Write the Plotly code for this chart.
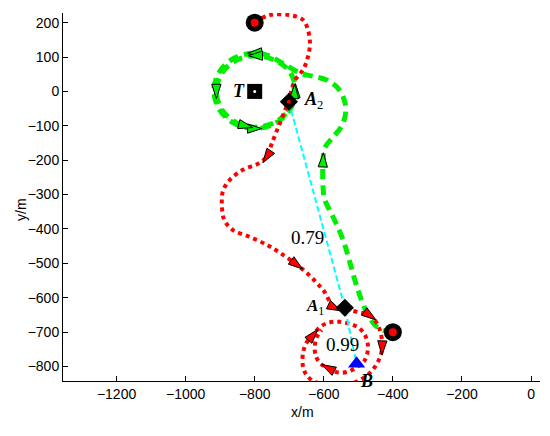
import math
import plotly.graph_objects as go

# ---------------- data ----------------
# red (dotted) trajectory, starting at (-800, 200)
red_x = [-800, -756, -698, -660, -646, -640, -646, -660, -683, -704, -727, -750, -765, -790,
         -834, -872, -892, -895, -888, -863, -814, -765, -727, -678, -649, -620, -600, -582,
         -568, -539, -504, -466, -440, -431, -443, -466, -495, -533, -582, -620, -646, -660,
         -660, -650, -631, -612, -588, -553, -504, -481, -472, -481, -504, -530, -560, -588,
         -611, -624, -626, -620, -606]
red_y = [202, 222, 222, 208, 179, 141, 100, 63, 33, -33, -92, -150, -190, -210,
         -228, -257, -290, -330, -374, -403, -423, -446, -469, -504, -528, -557, -580, -612,
         -629, -633, -641, -652, -687, -746, -786, -818, -839, -853, -855, -847, -830, -801,
         -760, -731, -708, -686, -673, -670, -684, -708, -743, -781, -801, -815, -817, -804,
         -790, -766, -740, -714, -694]
red_arrow_idx = [12, 23, 28, 31, 33, 38, 44, 55]

# green (dashed) trajectory, starting at (-400, -700)
green_x = [-400, -443, -475, -504, -524, -544, -573, -597, -602, -602, -597, -575, -548, -536,
           -544, -562, -591, -631, -665, -716, -760, -800, -859, -902, -918, -902, -859, -800,
           -741, -698, -682, -698, -741, -798, -855, -896, -911, -896, -855, -826, -798, -741,
           -700, -685, -695]
green_y = [-700, -687, -644, -568, -499, -432, -365, -315, -280, -199, -164, -135, -100, -54,
           -16, 13, 33, 44, 52, 80, 104, 112, 97, 57, 2, -53, -93, -108,
           -93, -53, 2, 57, 90, 104, 90, 52, 0, -52, -90, -100, -104, -90,
           -52, 0, 35]
green_arrow_idx = [9, 21, 27, 30, 33, 36, 39, 43]

# start points, target, key points
start_x = [-800, -400]
start_y = [200, -700]
target_x = [-800]
target_y = [0]
a_x = [-701, -539]          # A2, A1
a_y = [-30, -629]
b_x = [-505]
b_y = [-792]
los_x = [-701, -539, -505]  # A2 -> A1 -> B
los_y = [-30, -629, -792]
los_values = ["0.79", "0.99"]

x_range = [-1355, 26]
y_range = [-842, 228]
x_ticks = [-1200, -1000, -800, -600, -400, -200, 0]
y_ticks = [200, 100, 0, -100, -200, -300, -400, -500, -600, -700, -800]

# ---------------- figure ----------------
OFF = 8  # default body margin of the page
W, H = 550 - OFF, 436 - OFF
M = dict(l=63 - OFF, r=10, t=13 - OFF, b=55)
pw = W - M["l"] - M["r"]
ph = H - M["t"] - M["b"]
sx = pw / (x_range[1] - x_range[0])
sy = ph / (y_range[1] - y_range[0])

ARROW = 15
shift_px = 0.95 * ARROW / 2


def arrows(xs, ys, idx):
    ax, ay, ang = [], [], []
    for i in idx:
        dx = (xs[i + 1] - xs[i - 1]) * sx
        dy = (ys[i + 1] - ys[i - 1]) * sy
        a = math.atan2(dx, dy)
        ax.append(xs[i] + shift_px * math.sin(a) / sx)
        ay.append(ys[i] + shift_px * math.cos(a) / sy)
        ang.append(math.degrees(a))
    return ax, ay, ang


def page_to_paper(px, py):
    return (px - OFF - M["l"]) / pw, (M["t"] + ph - (py - OFF)) / ph


fig = go.Figure()

fig.add_trace(go.Scatter(x=green_x, y=green_y, mode="lines",
                         line=dict(color="#00ee00", width=5, dash="10px,6px", shape="spline"),
                         hoverinfo="skip"))
fig.add_trace(go.Scatter(x=red_x, y=red_y, mode="lines",
                         line=dict(color="#ff0000", width=4, dash="dot", shape="spline"),
                         hoverinfo="skip"))
fig.add_trace(go.Scatter(x=los_x, y=los_y, mode="lines",
                         line=dict(color="#00ffff", width=2, dash="6px,3px"),
                         hoverinfo="skip"))

gx, gy, ga = arrows(green_x, green_y, green_arrow_idx)
fig.add_trace(go.Scatter(x=gx, y=gy, mode="markers",
                         marker=dict(symbol="arrow", size=ARROW, angle=ga, color="#00ee00",
                                     line=dict(color="black", width=1))))
rx, ry, ra = arrows(red_x, red_y, red_arrow_idx)
fig.add_trace(go.Scatter(x=rx, y=ry, mode="markers",
                         marker=dict(symbol="arrow", size=ARROW, angle=ra, color="#ff0000",
                                     line=dict(color="black", width=1))))

# start markers
fig.add_trace(go.Scatter(x=start_x, y=start_y, mode="markers",
                         marker=dict(symbol="circle", size=18, color="black")))
fig.add_trace(go.Scatter(x=start_x, y=start_y, mode="markers",
                         marker=dict(symbol="circle", size=8, color="#ff0000")))
# target
fig.add_trace(go.Scatter(x=target_x, y=target_y, mode="markers",
                         marker=dict(symbol="square", size=15, color="black")))
fig.add_trace(go.Scatter(x=target_x, y=target_y, mode="markers",
                         marker=dict(symbol="circle", size=3, color="white")))
# A points
fig.add_trace(go.Scatter(x=a_x, y=a_y, mode="markers",
                         marker=dict(symbol="diamond", size=14, color="black")))
fig.add_trace(go.Scatter(x=a_x[:1], y=a_y[:1], mode="markers",
                         marker=dict(symbol="circle", size=4, color="#ff0000")))
# B
fig.add_trace(go.Scatter(x=b_x, y=b_y, mode="markers",
                         marker=dict(symbol="triangle-up", size=15, color="#0000ff")))

serif = "Liberation Serif"
lab = dict(showarrow=False, font=dict(family=serif, size=18, color="black"))
lab17 = dict(showarrow=False, font=dict(family=serif, size=17, color="black"))
xt = page_to_paper(302, 422)
yt = page_to_paper(11, 210)
ann = [
    dict(x=-846, y=1, text="<b><i>T</i></b>", **lab),
    dict(x=-662, y=-25, text="<b><i>A</i></b><sub>2</sub>", xanchor="left", **lab),
    dict(x=-656, y=-626, text="<b><i>A</i></b><sub>1</sub>", xanchor="left", **lab17),
    dict(x=-475, y=-841, text="<b><i>B</i></b>", **lab),
    dict(x=-646, y=-426, text=los_values[0], showarrow=False,
         font=dict(family=serif, size=19, color="black")),
    dict(x=-547, y=-737, text=los_values[1], showarrow=False,
         font=dict(family=serif, size=19, color="black")),
    dict(xref="paper", yref="paper", x=xt[0], y=xt[1],
         text="x/m", showarrow=False, font=dict(family="Liberation Sans", size=14, color="black")),
    dict(xref="paper", yref="paper", x=yt[0], y=yt[1],
         text="y/m", textangle=-90, showarrow=False,
         font=dict(family="Liberation Sans", size=14, color="black")),
]

axis_common = dict(showline=True, linecolor="black", linewidth=1, ticks="inside", ticklen=5,
                   tickcolor="black", showgrid=False, zeroline=False, mirror=False,
                   tickfont=dict(family="Liberation Sans", size=14, color="black"))

fig.update_layout(
    width=W, height=H, margin=M, showlegend=False,
    paper_bgcolor="white", plot_bgcolor="white",
    xaxis=dict(range=x_range, tickvals=x_ticks, **axis_common),
    yaxis=dict(range=y_range, tickvals=y_ticks, **axis_common),
    annotations=ann,
)

fig.write_html("out.html")
